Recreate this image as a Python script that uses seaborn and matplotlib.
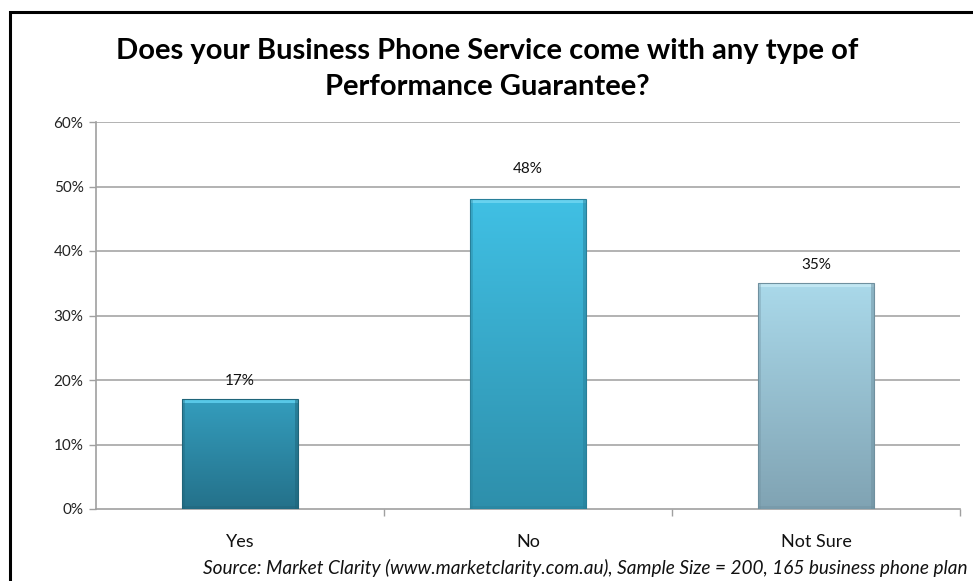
import numpy as np
import matplotlib
matplotlib.use("Agg")
import matplotlib.pyplot as plt
import seaborn as sns
from matplotlib.colors import LinearSegmentedColormap
from matplotlib.patches import Rectangle

categories = ["Yes", "No", "Not Sure"]
values = [17, 48, 35]
value_labels = ["17%", "48%", "35%"]
y_ticks = [0, 10, 20, 30, 40, 50, 60]
y_tick_labels = ["0%", "10%", "20%", "30%", "40%", "50%", "60%"]
title = "Does your Business Phone Service come with any type of\nPerformance Guarantee?"
source = "Source: Market Clarity (www.marketclarity.com.au), Sample Size = 200, 165 business phone plan"

# top -> bottom shades for each bar, plus the bevel highlight and shadow
bar_shades = [("#349dbd", "#24718a"), ("#40c0e4", "#2e8fab"), ("#aad9ea", "#80a3b3")]
bevel_light = ["#5fd0ef", "#6fd6f2", "#c6e9f4"]
bevel_dark = ["#1f6479", "#287f99", "#6f909f"]

sns.set_theme(style="white")
plt.rcParams["font.family"] = ["Lato", "DejaVu Sans"]

W, H = 973, 581
fig = plt.figure(figsize=(W / 100, H / 100), dpi=100)
ax = fig.add_axes([96 / W, 72 / H, 864 / W, 387 / H])

sns.barplot(x=categories, y=values, width=0.4, ax=ax, color="#3ab0d0",
            saturation=1, edgecolor="none")

ax.set_xlim(-0.5, 2.5)
ax.set_ylim(0, 60)

px_y = 60 / 387      # one pixel in data units (vertical)
px_x = 3 / 864       # one pixel in data units (horizontal)

# vertical gradient fill for each bar, clipped to the bar outline
for patch, (top, bottom), hi, lo in zip(ax.patches, bar_shades, bevel_light, bevel_dark):
    x0, y0 = patch.get_x(), patch.get_y()
    w, h = patch.get_width(), patch.get_height()
    cmap = LinearSegmentedColormap.from_list("g", [bottom, top])
    grad = np.linspace(0, 1, 256).reshape(-1, 1)
    im = ax.imshow(grad, extent=[x0, x0 + w, y0, y0 + h], origin="lower",
                   cmap=cmap, aspect="auto", zorder=3)
    im.set_clip_path(patch)
    patch.set_facecolor("none")
    patch.set_edgecolor(lo)
    patch.set_linewidth(0.8)
    patch.set_zorder(5)
    # bevel: bright strip on top, darker strips on sides and bottom
    ax.add_patch(Rectangle((x0, y0 + h - 4 * px_y), w, 4 * px_y, facecolor=hi,
                           alpha=0.85, edgecolor="none", zorder=4))
    ax.add_patch(Rectangle((x0, y0), 3 * px_x, h, facecolor=lo,
                           alpha=0.35, edgecolor="none", zorder=4))
    ax.add_patch(Rectangle((x0 + w - 3 * px_x, y0), 3 * px_x, h, facecolor=lo,
                           alpha=0.5, edgecolor="none", zorder=4))
    ax.add_patch(Rectangle((x0, y0), w, 3 * px_y, facecolor=lo,
                           alpha=0.4, edgecolor="none", zorder=4))

ax.set_xlim(-0.5, 2.5)
ax.set_ylim(0, 60)

# gridlines and axes
ax.set_yticks(y_ticks)
ax.set_yticklabels(y_tick_labels, fontsize=11, color="#222222")
for t in y_ticks[1:]:
    ax.axhline(t, color="#a6a6a6", lw=1.2, zorder=1)
for s in ["top", "right"]:
    ax.spines[s].set_visible(False)
for s in ["left", "bottom"]:
    ax.spines[s].set_color("#a0a0a0")
    ax.spines[s].set_linewidth(1.2)
ax.tick_params(axis="y", which="major", direction="out", length=5, width=1.0,
               color="#a0a0a0", pad=4, left=True)
ax.set_xticks([0, 1, 2])
ax.set_xticklabels(categories, fontsize=13, color="#111111")
ax.tick_params(axis="x", which="major", length=0, pad=18)
ax.set_xticks([0.5, 1.5, 2.5], minor=True)
ax.tick_params(axis="x", which="minor", direction="out", length=5, width=1.0,
               color="#a0a0a0", bottom=True)
ax.set_xlabel("")
ax.set_ylabel("")

# value labels
offsets = [13, 22, 13]
for i, (v, lab, off) in enumerate(zip(values, value_labels, offsets)):
    ax.annotate(lab, (i, v), xytext=(0, off), textcoords="offset points",
                ha="center", va="center", fontsize=11, color="#111111", zorder=6)

fig.text(487 / W, 1 - 69 / H, title, ha="center", va="center",
         fontsize=21, fontweight="bold", color="black", linespacing=1.45)
fig.text(968 / W, 1 - 568 / H, source, ha="right", va="center",
         fontsize=13.7, fontstyle="italic", color="#111111")

# chart frame
fig.patches.append(Rectangle((9.5 / W, -0.1), 1.2, 1 - 12 / H + 0.1,
                             transform=fig.transFigure, fill=False,
                             edgecolor="black", linewidth=2.2))

fig.savefig("out.png", dpi=100)
